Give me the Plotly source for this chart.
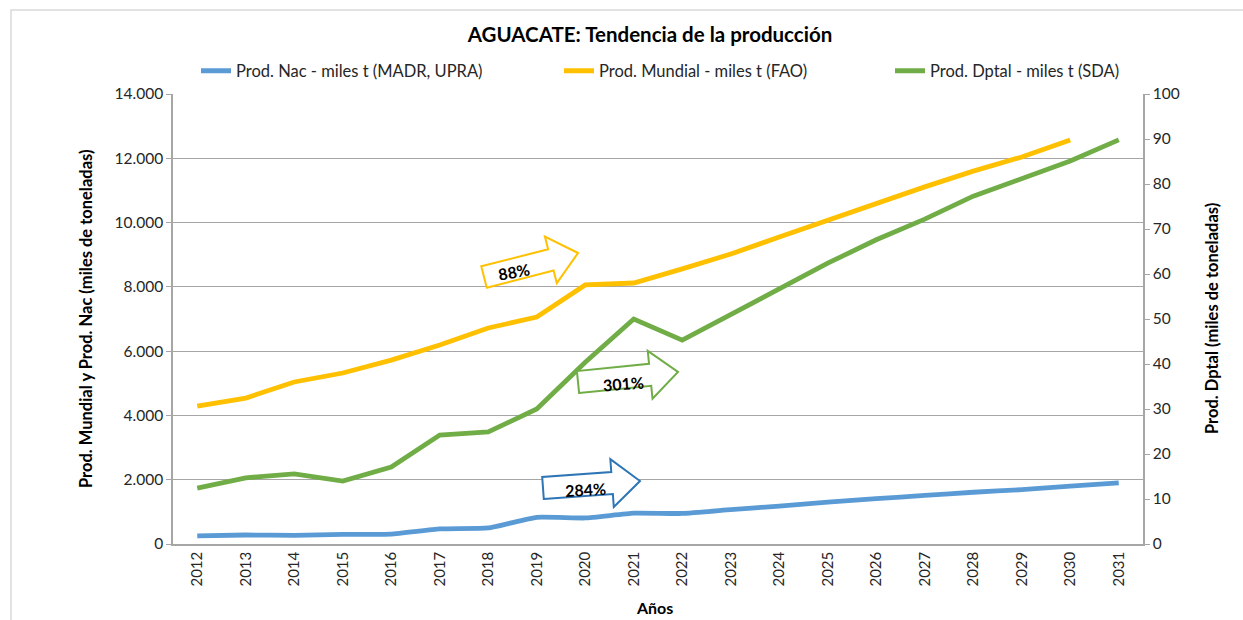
import math
import plotly.graph_objects as go

years = [str(y) for y in range(2012, 2032)]
prod_nac = [250, 280, 270, 300, 310, 470, 500, 830, 810, 960, 950, 1070, 1180,
            1300, 1410, 1510, 1610, 1690, 1800, 1900]
prod_mundial = [4290, 4540, 5040, 5320, 5720, 6190, 6720, 7060, 8060, 8120, 8560,
                9020, 9550, 10080, 10580, 11110, 11600, 12040, 12570, None]
prod_dptal = [12.4, 14.7, 15.6, 14.0, 17.1, 24.2, 24.9, 30.0, 40.4, 50.0, 45.3,
              50.9, 56.7, 62.4, 67.6, 72.2, 77.3, 81.3, 85.1, 89.8]

names = ["Prod. Nac - miles t (MADR, UPRA)", "Prod. Mundial - miles t (FAO)",
         "Prod. Dptal - miles t (SDA)"]
colors = ["#5B9BD5", "#FFC000", "#70AD47"]
arrow_labels = ["88%", "301%", "284%"]
arrow_colors = ["#FFC000", "#70AD47", "#2E75B6"]

FONT = "Lato"
W, H = 1243, 620
L, R, T, B = 173, 100, 94, 76
PW, PH = W - L - R, H - T - B

fig = go.Figure()
fig.add_trace(go.Scatter(x=years, y=prod_nac, name=names[0], mode="lines",
                         line=dict(color=colors[0], width=4.8, shape="spline", smoothing=0.4),
                         legend="legend", showlegend=True))
fig.add_trace(go.Scatter(x=years, y=prod_mundial, name=names[1], mode="lines",
                         line=dict(color=colors[1], width=4.8), legend="legend2",
                         showlegend=True))
fig.add_trace(go.Scatter(x=years, y=prod_dptal, name=names[2], mode="lines",
                         line=dict(color=colors[2], width=4.8), yaxis="y2",
                         legend="legend3", showlegend=True))


def to_paper(px, py):
    return (px - L) / PW, (H - B - py) / PH


def block_arrow(tail, tip, bh=11, hh=24, hl=28):
    (x0, y0), (x1, y1) = tail, tip
    ux0, uy0, ux1, uy1 = x0, -y0, x1, -y1
    length = math.hypot(ux1 - ux0, uy1 - uy0)
    dx, dy = (ux1 - ux0) / length, (uy1 - uy0) / length
    nx, ny = -dy, dx
    local = [(0, -bh), (length - hl, -bh), (length - hl, -hh), (length, 0),
             (length - hl, hh), (length - hl, bh), (0, bh)]
    pts = []
    for u, v in local:
        X = ux0 + u * dx + v * nx
        Y = uy0 + u * dy + v * ny
        pts.append(to_paper(X, -Y))
    path = "M " + " L ".join(f"{a:.5f},{b:.5f}" for a, b in pts) + " Z"
    ang = math.degrees(math.atan2(uy1 - uy0, ux1 - ux0))
    return path, ang


arrows = [((484, 277), (578, 253), (514, 271)),
          ((578, 382), (678, 372), (623, 383)),
          ((543, 488), (640, 481), (585, 489))]
shapes = []
annotations = []
for (tail, tip, txt), lab, col in zip(arrows, arrow_labels, arrow_colors):
    path, ang = block_arrow(tail, tip)
    shapes.append(dict(type="path", xref="paper", yref="paper", path=path,
                       fillcolor="white", line=dict(color=col, width=2), layer="above"))
    tx, ty = to_paper(*txt)
    annotations.append(dict(x=tx, y=ty, xref="paper", yref="paper", text=f"<b>{lab}</b>",
                            showarrow=False, textangle=-ang * 0.75,
                            xanchor="center", yanchor="middle",
                            font=dict(family=FONT, size=16, color="black")))

# outer chart border
bx0, by0 = to_paper(11, 10)
bx1, by1 = to_paper(1260, 640)
shapes.insert(0, dict(type="rect", xref="paper", yref="paper", x0=bx0, y0=by1, x1=bx1, y1=by0,
                      line=dict(color="#D9D9D9", width=1.5), layer="below"))

# axis titles
annotations.append(dict(x=to_paper(86, 0)[0], y=0.5, xref="paper", yref="paper",
                        text="<b>Prod. Mundial y Prod. Nac (miles de toneladas)</b>",
                        textangle=-90, showarrow=False, xanchor="center", yanchor="middle",
                        font=dict(family=FONT, size=16.5, color="black")))
annotations.append(dict(x=to_paper(1212, 0)[0], y=0.5, xref="paper", yref="paper",
                        text="<b>Prod. Dptal (miles de toneladas)</b>",
                        textangle=-90, showarrow=False, xanchor="center", yanchor="middle",
                        font=dict(family=FONT, size=16.5, color="black")))
annotations.append(dict(x=to_paper(654, 0)[0], y=to_paper(0, 607)[1], xref="paper",
                        yref="paper", text="<b>Años</b>", showarrow=False,
                        xanchor="center", yanchor="middle",
                        font=dict(family=FONT, size=16, color="black")))

leg_y = to_paper(0, 71)[1]
leg_common = dict(orientation="h", yanchor="middle", xanchor="left", bgcolor="rgba(0,0,0,0)",
                  font=dict(family=FONT, size=16.5, color="#262626"), itemwidth=30,
                  visible=True)

fig.update_layout(
    width=W, height=H,
    margin=dict(l=L, r=R, t=T, b=B, autoexpand=False),
    paper_bgcolor="white", plot_bgcolor="white",
    separators=",.",
    showlegend=True,
    title=dict(text="<b>AGUACATE: Tendencia de la producción</b>", x=to_paper(650, 0)[0],
               xref="paper", xanchor="center", y=1 - 35 / H, yanchor="middle",
               font=dict(family=FONT, size=20.5, color="black")),
    font=dict(family=FONT, size=15, color="#262626"),
    xaxis=dict(type="category", showline=True, linecolor="#A6A6A6", linewidth=1.5,
               tickangle=-90, ticks="", showgrid=False, tickfont=dict(size=15),
               range=[-0.5, 19.5]),
    yaxis=dict(range=[0, 14000], dtick=2000, tickformat=",.0f", showline=True,
               linecolor="#A6A6A6", linewidth=1.5, ticks="outside", ticklen=5,
               tickcolor="#A6A6A6", gridcolor="#A6A6A6", gridwidth=1.2,
               zeroline=False, tickfont=dict(size=15.5)),
    yaxis2=dict(range=[0, 100], dtick=10, overlaying="y", side="right", showline=True,
                linecolor="#A6A6A6", linewidth=1.5, ticks="outside", ticklen=5,
                tickcolor="#A6A6A6", showgrid=False, zeroline=False,
                tickfont=dict(size=15.5)),
    legend=dict(x=to_paper(196, 0)[0], y=leg_y, **leg_common),
    legend2=dict(x=to_paper(559, 0)[0], y=leg_y, **leg_common),
    legend3=dict(x=to_paper(890, 0)[0], y=leg_y, **leg_common),
    shapes=shapes,
    annotations=annotations,
)

fig.write_html("out.html", config={"displayModeBar": False},
               post_script="document.body.style.margin='0';document.body.style.overflow='hidden';")
